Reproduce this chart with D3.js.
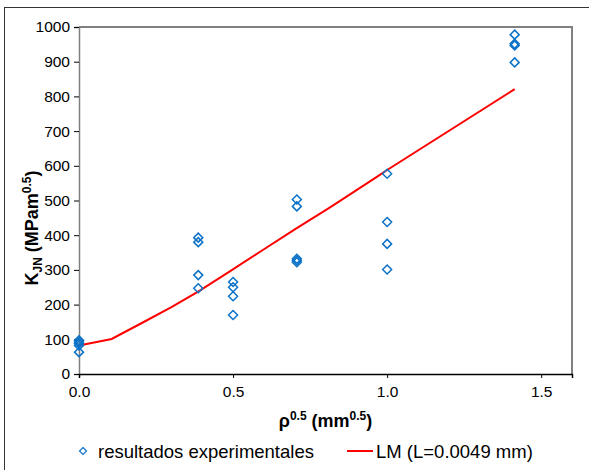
<!DOCTYPE html>
<html>
<head>
<meta charset="utf-8">
<script src="https://cdn.jsdelivr.net/npm/d3@7"></script>
<style>
  body { margin: 0; background: #fff; }
  text { font-family: "Liberation Sans", Arial, sans-serif; fill: #000; }
</style>
</head>
<body>
<svg id="chart" width="589" height="470"></svg>
<script>
// experimental points, grouped by rho^0.5
const expX = [0, 0, 0, 0, 0,
              0.387, 0.387, 0.387, 0.387,
              0.5, 0.5, 0.5, 0.5,
              0.707, 0.707, 0.707, 0.707, 0.707,
              1.0, 1.0, 1.0, 1.0,
              1.414, 1.414, 1.414, 1.414];
const expY = [97, 92, 88, 82, 63,
              393, 380, 285, 247,
              265, 250, 224, 170,
              503, 483, 332, 327, 322,
              577, 438, 375, 301,
              978, 952, 947, 898];

// LM (L=0.0049 mm) curve
const lmX = [0, 0.106, 0.204, 0.30, 0.388, 0.497, 0.594, 0.703, 0.811, 0.963, 1.0, 1.414];
const lmY = [82, 101, 147, 193, 238, 300, 356, 418, 478, 566, 588, 821];

const xTicks = [0, 0.5, 1.0, 1.5];
const yTicks = [0, 100, 200, 300, 400, 500, 600, 700, 800, 900, 1000];

const margin = {left: 79, top: 27, right: 17, bottom: 96};
const width = 589 - margin.left - margin.right,
      height = 470 - margin.top - margin.bottom;
const blue = "#0b72c8";

const svg = d3.select("#chart");

// outer chart border
svg.append("rect")
    .attr("x", 4.5).attr("y", 7.5)
    .attr("width", 640).attr("height", 500)
    .attr("fill", "none").attr("stroke", "#333").attr("stroke-width", 1);

const g = svg.append("g")
    .attr("transform", "translate(" + margin.left + "," + margin.top + ")");

const x = d3.scaleLinear().domain([0, 1.6]).range([0, width]);
const y = d3.scaleLinear().domain([0, 1000]).range([height, 0]);

// plot area frame (top and right are grey)
g.append("path")
    .attr("d", "M0,0H" + width + "V" + height)
    .attr("fill", "none").attr("stroke", "#808080").attr("stroke-width", 2);

// y axis
const yAx = g.append("g")
    .call(d3.axisLeft(y).tickValues(yTicks).tickFormat(d3.format("d")).tickSize(5).tickPadding(4));
yAx.select(".domain").attr("stroke", "#808080").attr("stroke-width", 1.5);
yAx.selectAll(".tick line").attr("stroke", "#000");
yAx.selectAll("text").style("font-size", "15.5px").attr("fill", "#000");

// x axis
const xAx = g.append("g")
    .attr("transform", "translate(0," + height + ")")
    .call(d3.axisBottom(x).tickValues(xTicks).tickFormat(d3.format(".1f")).tickSize(4).tickPadding(8));
xAx.select(".domain").attr("stroke", "#000").attr("stroke-width", 1.5);
xAx.selectAll(".tick line").attr("stroke", "#000");
xAx.selectAll("text").style("font-size", "15.5px").attr("fill", "#000");

// axis titles
const xTitle = svg.append("text")
    .attr("x", margin.left + width / 2).attr("y", 427)
    .attr("text-anchor", "middle")
    .style("font-size", "18px").style("font-weight", "bold");
xTitle.append("tspan").text("ρ");
xTitle.append("tspan").attr("dy", -7).style("font-size", "12px").text("0.5");
xTitle.append("tspan").attr("dy", 7).text(" (mm");
xTitle.append("tspan").attr("dy", -7).style("font-size", "12px").text("0.5");
xTitle.append("tspan").attr("dy", 7).text(")");

const yTitle = svg.append("text")
    .attr("transform", "translate(38,228) rotate(-90)")
    .attr("text-anchor", "middle")
    .style("font-size", "18px").style("font-weight", "bold");
yTitle.append("tspan").text("K");
yTitle.append("tspan").attr("dy", 4).style("font-size", "12px").text("JN");
yTitle.append("tspan").attr("dy", -4).text(" (MPam");
yTitle.append("tspan").attr("dy", -7).style("font-size", "12px").text("0.5");
yTitle.append("tspan").attr("dy", 7).text(")");

// LM curve
const line = d3.line().x((d, i) => x(lmX[i])).y((d, i) => y(lmY[i]));
g.append("path")
    .datum(lmY)
    .attr("d", line)
    .attr("fill", "none").attr("stroke", "#ff0000").attr("stroke-width", 2);

// diamonds
const diamond = (rx, ry) => "M0," + (-ry) + "L" + rx + ",0L0," + ry + "L" + (-rx) + ",0Z";
g.selectAll("path.pt")
    .data(expY)
    .join("path")
    .attr("class", "pt")
    .attr("transform", (d, i) => "translate(" + x(expX[i]) + "," + y(d) + ")")
    .attr("d", diamond(4.5, 4.5))
    .attr("fill", "none").attr("stroke", blue).attr("stroke-width", 1.5);

// legend
const leg = svg.append("g").attr("transform", "translate(0,451)");
leg.append("path")
    .attr("transform", "translate(83,0)")
    .attr("d", diamond(3.5, 3.5))
    .attr("fill", "none").attr("stroke", blue).attr("stroke-width", 1.2);
leg.append("text").attr("x", 98).attr("y", 6.5).style("font-size", "18.5px")
    .text("resultados experimentales");
leg.append("line")
    .attr("x1", 347).attr("x2", 373)
    .attr("stroke", "#ff0000").attr("stroke-width", 2);
leg.append("text").attr("x", 376).attr("y", 6.5).style("font-size", "18.5px")
    .text("LM (L=0.0049 mm)");
</script>
</body>
</html>
